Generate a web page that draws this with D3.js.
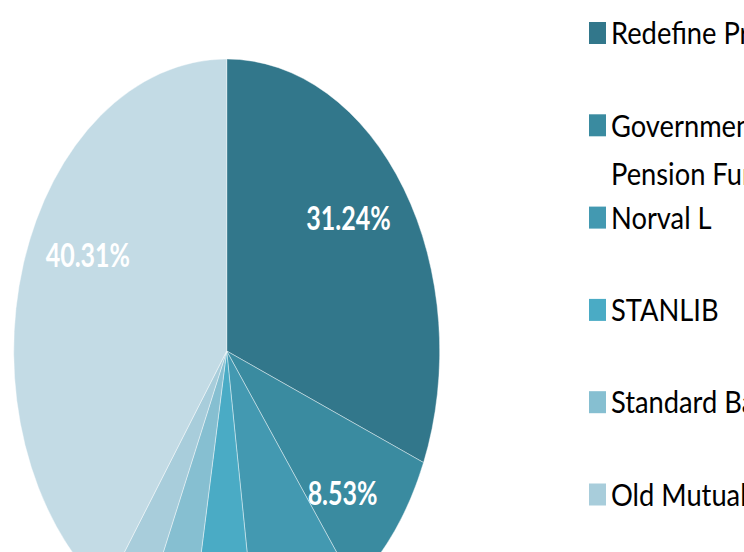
<!DOCTYPE html>
<html>
<head>
<meta charset="utf-8">
<script src="https://cdn.jsdelivr.net/npm/d3@7"></script>
<style>
  html, body { margin: 0; padding: 0; background: #fff; overflow: hidden; }
  svg { display: block; }
</style>
</head>
<body>
<div id="chart"></div>
<script>
// holders and their share (%)
var holders = ["Redefine Properties", "Government Employees Pension Fund", "Norval L", "STANLIB", "Standard Bank", "Old Mutual", "Other"]
var shares = [31.24, 8.53, 8.03, 4.93, 3.76, 3.20, 40.31]
var colors = ["#32778b", "#3a8ba0", "#4399b1", "#4aabc5", "#86bfd1", "#a8cddb", "#c3dbe5"]
// legend lines (Excel wraps the long name)
var legendLines = [["Redefine Properties"], ["Government Employees", "Pension Fund"], ["Norval L"], ["STANLIB"], ["Standard Bank"], ["Old Mutual"], ["Other"]]

var width = 744, height = 552
var svg = d3.select("#chart").append("svg")
            .attr("width", width)
            .attr("height", height)

// pie is drawn as a circle then stretched vertically like the source
var radius = 213, stretch = 1.371
var cx = 226.7, cy = 351

var pie = d3.pie().sort(null).value(function(d){ return d })
var arcs = pie(shares)
var arc = d3.arc().innerRadius(0).outerRadius(radius)

var pieG = svg.append("g")
              .attr("transform", "translate(" + cx + "," + cy + ") scale(1," + stretch + ")")

pieG.selectAll("path")
    .data(arcs)
    .enter()
    .append("path")
    .attr("d", arc)
    .attr("fill", function(d, i){ return colors[i] })
    .attr("stroke", "#ffffff")
    .attr("stroke-opacity", 0.6)
    .attr("stroke-width", 0.7)
    .attr("vector-effect", "non-scaling-stroke")

// data labels: Excel "best fit" shifts them a little off the mid angle,
// the small slices have theirs below the visible area so they are skipped
var labelShift = {0: -4.7, 1: 4, 6: 9.3}
var labelFont = 25, labelStretch = 1.31

function labelPos(d, i){
  var r = 0.73
  var a = (d.startAngle + d.endAngle) / 2 + (labelShift[i] || 0) * Math.PI / 180
  return [cx + Math.sin(a) * radius * r, cy - Math.cos(a) * radius * r * stretch]
}

svg.append("g").selectAll("g")
   .data(arcs.filter(function(d){ return d.value >= 8.5 }))
   .enter()
   .append("g")
   .attr("transform", function(d){
      var p = labelPos(d, d.index)
      return "translate(" + p[0] + "," + p[1] + ") scale(1," + labelStretch + ")"
   })
   .append("text")
   .attr("text-anchor", "middle")
   .attr("y", labelFont * 0.36)
   .attr("font-family", "Lato, 'Open Sans', sans-serif")
   .attr("font-weight", "bold")
   .attr("font-size", labelFont + "px")
   .attr("fill", "#ffffff")
   .text(function(d){ return d3.format(".2f")(d.value) + "%" })

// legend
var legendFont = 27.3, legendStretch = 1.155
var rowY = d3.scaleLinear().domain([0, 1]).range([33, 125.3])

var legend = svg.append("g").selectAll("g")
                .data(holders)
                .enter()
                .append("g")
                .attr("transform", function(d, i){ return "translate(0," + rowY(i) + ")" })

legend.append("rect")
      .attr("x", 589)
      .attr("y", -11)
      .attr("width", 17)
      .attr("height", 22)
      .attr("fill", function(d, i){ return colors[i] })

legend.append("g")
      .attr("transform", "translate(611,0) scale(1," + legendStretch + ")")
      .selectAll("text")
      .data(function(d, i){ return legendLines[i] })
      .enter()
      .append("text")
      .attr("x", 0)
      .attr("y", function(d, j){ return legendFont * 0.358 + j * 48.7 / legendStretch })
      .attr("font-family", "Lato, 'Open Sans', sans-serif")
      .attr("font-size", legendFont + "px")
      .attr("fill", "#000000")
      .text(function(d){ return d })
</script>
</body>
</html>
